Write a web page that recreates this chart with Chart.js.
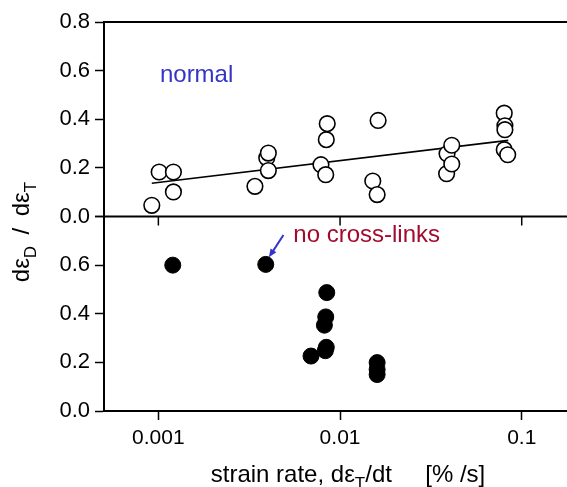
<!DOCTYPE html>
<html>
<head>
<meta charset="utf-8">
<script src="https://cdn.jsdelivr.net/npm/chart.js@4.4.1/dist/chart.umd.min.js"></script>
<style>
html, body { margin: 0; padding: 0; background: #fff; }
#wrap { width: 567px; height: 487px; }
</style>
</head>
<body>
<div id="wrap"><canvas id="strainChart" width="567" height="487"></canvas></div>
<script>
// normal tendon: strain rate [%/s] vs dεD/dεT
var normalRate  = [0.00092, 0.00101, 0.00121, 0.00121, 0.0034, 0.00395, 0.00403, 0.00403,
                   0.00785, 0.00834, 0.0084, 0.0085, 0.01514, 0.0160, 0.0162,
                   0.0386, 0.0388, 0.0412, 0.0412, 0.0801, 0.0808, 0.0808, 0.0801, 0.0837];
var normalRatio = [0.046, 0.183, 0.183, 0.101, 0.124, 0.241, 0.261, 0.189,
                   0.213, 0.172, 0.316, 0.382, 0.146, 0.090, 0.395,
                   0.176, 0.258, 0.216, 0.293, 0.425, 0.373, 0.357, 0.275, 0.254];
// regression line through the normal group
var fitRate  = [0.00092, 0.0843];
var fitRatio = [0.137, 0.313];
// no cross-links
var noLinkRate  = [0.0012, 0.0039, 0.00845, 0.00834, 0.0082, 0.0084, 0.0083, 0.00692, 0.0160, 0.0160, 0.0160];
var noLinkRatio = [0.600, 0.603, 0.487, 0.387, 0.353, 0.262, 0.248, 0.226, 0.199, 0.171, 0.150];

var rateTicks  = [0.001, 0.01, 0.1];
var ratioTicks = [0, 0.2, 0.4, 0.6, 0.8];
var rateMin = 0.000502, rateMax = 0.1775;

var FONT = '"Liberation Sans", Arial, sans-serif';

function toPts(xs, ys) {
    return xs.map(function (v, i) { return { x: v, y: ys[i] }; });
}

// text with subscripts: parts = [[text, isSub], ...]
function partsWidth(ctx, parts, size) {
    var w = 0;
    parts.forEach(function (p) {
        ctx.font = (p[1] ? Math.round(size * 0.7) : size) + 'px ' + FONT;
        w += ctx.measureText(p[0]).width;
    });
    return w;
}
function drawParts(ctx, parts, x, y, size) {
    parts.forEach(function (p) {
        ctx.font = (p[1] ? Math.round(size * 0.7) : size) + 'px ' + FONT;
        ctx.fillText(p[0], x, p[1] ? y + size * 0.3 : y);
        x += ctx.measureText(p[0]).width;
    });
}

var framePlugin = {
    id: 'frame',
    afterDraw: function (chart) {
        var ctx = chart.ctx, a = chart.chartArea;
        var xs = chart.scales.x, yt = chart.scales.yTop, yb = chart.scales.yBot;
        var yDiv = yt.getPixelForValue(0);
        ctx.save();
        // top edge and panel divider
        ctx.strokeStyle = '#000';
        ctx.lineWidth = 2;
        ctx.beginPath();
        ctx.moveTo(a.left, a.top); ctx.lineTo(a.right, a.top);
        ctx.moveTo(a.left, yDiv); ctx.lineTo(a.right, yDiv);
        ctx.stroke();
        ctx.lineWidth = 1.5;
        ctx.beginPath();
        rateTicks.forEach(function (v) {
            var px = xs.getPixelForValue(v);
            ctx.moveTo(px, yDiv); ctx.lineTo(px, yDiv + 9);
        });
        ctx.stroke();

        // group labels
        ctx.textAlign = 'left';
        ctx.textBaseline = 'alphabetic';
        ctx.fillStyle = '#3434c8';
        ctx.font = '24px ' + FONT;
        ctx.fillText('normal', xs.getPixelForValue(0.00102), yt.getPixelForValue(0.555));
        ctx.fillStyle = '#a30b2e';
        ctx.fillText('no cross-links', xs.getPixelForValue(0.00553), yb.getPixelForValue(0.694));

        // arrow to the no cross-links point
        var x0 = xs.getPixelForValue(0.00488), y0 = yb.getPixelForValue(0.724);
        var x1 = xs.getPixelForValue(0.00406), y1 = yb.getPixelForValue(0.632);
        var ang = Math.atan2(y1 - y0, x1 - x0);
        ctx.strokeStyle = '#3434d0';
        ctx.fillStyle = '#3434d0';
        ctx.lineWidth = 2;
        ctx.beginPath();
        ctx.moveTo(x0, y0);
        ctx.lineTo(x1 - 5 * Math.cos(ang), y1 - 5 * Math.sin(ang));
        ctx.stroke();
        ctx.beginPath();
        ctx.moveTo(x1, y1);
        ctx.lineTo(x1 - 9 * Math.cos(ang - 0.4), y1 - 9 * Math.sin(ang - 0.4));
        ctx.lineTo(x1 - 9 * Math.cos(ang + 0.4), y1 - 9 * Math.sin(ang + 0.4));
        ctx.closePath();
        ctx.fill();

        // axis titles
        ctx.fillStyle = '#000';
        var xt = [['strain rate, d\u03B5', false], ['T', true], ['/dt     [% /s]', false]];
        var w = partsWidth(ctx, xt, 24);
        drawParts(ctx, xt, 348 - w / 2, 482, 24);

        var ytl = [['d\u03B5', false], ['D', true], [' \u2009/\u2009 d\u03B5', false], ['T', true]];
        ctx.translate(29, 232);
        ctx.rotate(-Math.PI / 2);
        w = partsWidth(ctx, ytl, 24);
        drawParts(ctx, ytl, -w / 2, 0, 24);
        ctx.restore();
    }
};

function yAxis(hideTop) {
    return {
        type: 'linear',
        position: 'left',
        stack: 'panels',
        stackWeight: 1,
        min: 0,
        max: 0.8,
        afterBuildTicks: function (axis) {
            axis.ticks = ratioTicks.map(function (v) { return { value: v }; });
        },
        afterFit: function (axis) { axis.width = 104; axis.paddingTop = 0; axis.paddingBottom = 0; },
        border: { color: '#000', width: 2 },
        grid: { drawOnChartArea: false, drawTicks: true, tickLength: 9, tickColor: '#000', tickWidth: 1.5 },
        ticks: {
            color: '#000',
            padding: 5,
            autoSkip: false,
            font: { family: FONT, size: 22 },
            callback: function (v) { return (hideTop && v >= 0.8) ? '' : v.toFixed(1); }
        }
    };
}

new Chart(document.getElementById('strainChart'), {
    type: 'scatter',
    data: {
        datasets: [
            {
                label: 'normal',
                data: toPts(normalRate, normalRatio),
                yAxisID: 'yTop',
                pointRadius: 7.8,
                pointBorderWidth: 1.6,
                pointBackgroundColor: '#fff',
                pointBorderColor: '#000'
            },
            {
                label: 'no cross-links',
                data: toPts(noLinkRate, noLinkRatio),
                yAxisID: 'yBot',
                pointRadius: 8,
                pointBorderWidth: 1,
                pointBackgroundColor: '#000',
                pointBorderColor: '#000'
            },
            {
                label: 'fit',
                type: 'line',
                data: toPts(fitRate, fitRatio),
                yAxisID: 'yTop',
                borderColor: '#000',
                borderWidth: 1.6,
                pointRadius: 0,
                fill: false
            }
        ]
    },
    options: {
        responsive: false,
        animation: false,
        layout: { autoPadding: false, padding: { top: 22, right: 0, left: 0, bottom: 0 } },
        plugins: { legend: { display: false }, tooltip: { enabled: false } },
        scales: {
            x: {
                type: 'logarithmic',
                min: rateMin,
                max: rateMax,
                afterBuildTicks: function (axis) {
                    axis.ticks = rateTicks.map(function (v) { return { value: v }; });
                },
                afterFit: function (axis) { axis.height = 76; axis.paddingLeft = 0; axis.paddingRight = 0; },
                border: { color: '#000', width: 2 },
                grid: { drawOnChartArea: false, drawTicks: true, tickLength: 9, tickColor: '#000', tickWidth: 1.5 },
                ticks: {
                    color: '#000',
                    padding: 6,
                    maxRotation: 0,
                    autoSkip: false,
                    font: { family: FONT, size: 21 },
                    callback: function (v) { return String(v); }
                }
            },
            yBot: yAxis(true),
            yTop: yAxis(false)
        }
    },
    plugins: [framePlugin]
});
</script>
</body>
</html>
